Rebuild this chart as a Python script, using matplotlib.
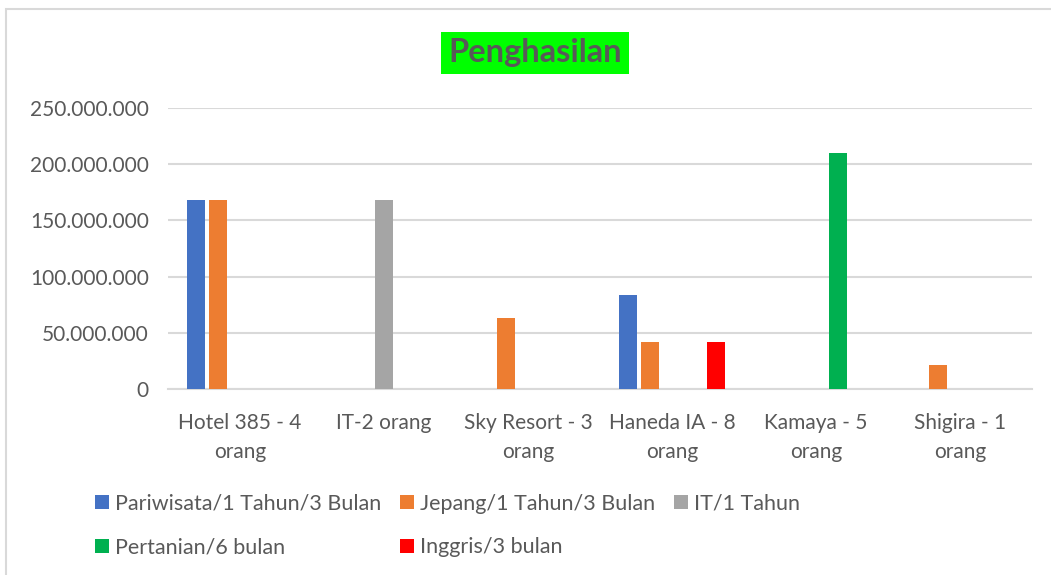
import matplotlib.pyplot as plt
from matplotlib.patches import Rectangle
from matplotlib.ticker import FuncFormatter
import numpy as np

# Penghasilan per tempat kerja, per program
categories = ['Hotel 385 - 4\norang', 'IT-2 orang', 'Sky Resort - 3\norang',
              'Haneda IA - 8\norang', 'Kamaya - 5\norang', 'Shigira - 1\norang']
series_names = ['Pariwisata/1 Tahun/3 Bulan', 'Jepang/1 Tahun/3 Bulan', 'IT/1 Tahun',
                'Pertanian/6 bulan', 'Inggris/3 bulan']
pariwisata = [168000000, 0, 0, 84000000, 0, 0]
jepang = [168000000, 0, 63000000, 42000000, 0, 21000000]
it = [0, 168000000, 0, 0, 0, 0]
pertanian = [0, 0, 0, 0, 210000000, 0]
inggris = [0, 0, 0, 42000000, 0, 0]
colors = ['#4472C4', '#ED7D31', '#A5A5A5', '#00B050', '#FF0000']

plt.rcParams['font.family'] = ['Lato', 'DejaVu Sans']
grey = '#595959'

fig = plt.figure(figsize=(10.51, 5.75), dpi=100)
ax = fig.add_axes([0.16, 0.3235, 0.822, 0.4887])

x = np.arange(len(categories))
all_series = [pariwisata, jepang, it, pertanian, inggris]
handles = []
for i, vals in enumerate(all_series):
    b = ax.bar(x + (i - 2) * 0.153, vals, width=0.125, color=colors[i],
               label=series_names[i], zorder=3)
    handles.append(b)

ax.set_xlim(-0.5, len(categories) - 0.5)
ax.set_ylim(0, 250000000)
ax.set_yticks(np.arange(0, 250000001, 50000000))
ax.yaxis.set_major_formatter(FuncFormatter(lambda v, p: f'{int(v):,}'.replace(',', '.')))
ax.grid(axis='y', color='#D9D9D9', linewidth=1.5, zorder=0)
ax.set_xticks(x)
ax.set_xticklabels(categories, linespacing=1.6)
ax.tick_params(axis='both', length=0, labelsize=15, labelcolor=grey)
ax.tick_params(axis='y', pad=14)
ax.tick_params(axis='x', pad=17)
for s in ['top', 'right', 'left']:
    ax.spines[s].set_visible(False)
ax.spines['bottom'].set_color('#D9D9D9')
ax.spines['bottom'].set_linewidth(1.5)

fig.text(0.509, 0.908, 'Penghasilan', ha='center', va='center', fontsize=23.5,
         fontweight='bold', color=grey,
         bbox=dict(facecolor='#00FF00', edgecolor='none', pad=5))

# legenda baris per baris: urutan diubah karena legend diisi per kolom
order = [0, 3, 1, 4, 2]
fig.legend([handles[i] for i in order], [series_names[i] for i in order],
           ncol=3, loc='upper left', bbox_to_anchor=(0.080, 0.160),
           frameon=False, fontsize=15.5, labelcolor=grey, handlelength=0.65,
           handleheight=0.65, handletextpad=0.3, columnspacing=0.85,
           labelspacing=1.1, borderpad=0)

# bingkai chart
fig.add_artist(Rectangle((6 / 1051, -0.1), 1.2, 0.1 + 1 - 9 / 575,
                         transform=fig.transFigure, fill=False,
                         edgecolor='#D9D9D9', linewidth=1.5))

plt.savefig('out.png')
plt.close()
